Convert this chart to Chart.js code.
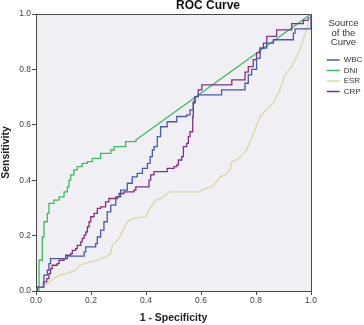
<!DOCTYPE html>
<html><head><meta charset="utf-8">
<script src="https://cdn.jsdelivr.net/npm/chart.js@4.4.0/dist/chart.umd.min.js"></script>
<style>html,body{margin:0;padding:0;background:#fff;overflow:hidden}canvas{display:block}</style>
</head><body>
<canvas id="c" width="364" height="325"></canvas>
<script>
const chartTitle = 'ROC Curve';
const seriesNames = ['WBC', 'DNI', 'ESR', 'CRP'];
const legendTitle = ['Source', 'of the', 'Curve'];
const tickLabels = ['0.0', '0.2', '0.4', '0.6', '0.8', '1.0'];

const wbcX = [0,0.005,0.029,0.041,0.047,0.053,0.114,0.175,0.181,0.217,0.223,0.235,0.247,0.259,0.272,0.29,0.308,0.332,0.35,0.368,0.387,0.405,0.415,0.423,0.429,0.441,0.453,0.477,0.512,0.548,0.56,0.572,0.578,0.59,0.669,0.675,0.754,0.76,0.772,0.784,0.802,0.815,0.839,0.863,0.924,0.936,0.942,0.99,1];
const wbcY = [0,0.014,0.057,0.075,0.099,0.117,0.126,0.141,0.159,0.171,0.195,0.22,0.25,0.286,0.31,0.34,0.364,0.389,0.412,0.425,0.443,0.461,0.485,0.509,0.521,0.557,0.593,0.611,0.63,0.636,0.654,0.684,0.702,0.708,0.708,0.726,0.726,0.75,0.78,0.80,0.84,0.877,0.895,0.907,0.907,0.931,0.946,0.946,1];

const dniX = [0,0.005,0.011,0.023,0.029,0.041,0.047,0.065,0.084,0.102,0.114,0.12,0.126,0.138,0.15,0.168,0.187,0.205,0.235,0.272,0.284,0.326,0.363];
const dniY = [0,0.003,0.111,0.195,0.25,0.28,0.316,0.328,0.34,0.358,0.376,0.40,0.419,0.437,0.449,0.461,0.467,0.479,0.497,0.509,0.521,0.539,0.545];
const dniTailX = [0.363, 1];
const dniTailY = [0.545, 1];

const esrX = [0,0.005,0.041,0.065,0.084,0.108,0.144,0.156,0.175,0.223,0.253,0.272,0.277,0.29,0.302,0.314,0.326,0.338,0.356,0.399,0.411,0.423,0.435,0.453,0.472,0.484,0.596,0.608,0.639,0.657,0.669,0.687,0.705,0.712,0.73,0.742,0.766,0.79,0.815,0.839,0.863,0.887,0.905,0.93,0.954,0.972,0.984,0.99,1];
const esrY = [0,0.009,0.027,0.045,0.057,0.063,0.075,0.093,0.099,0.111,0.123,0.135,0.165,0.177,0.19,0.213,0.238,0.256,0.262,0.268,0.292,0.31,0.328,0.334,0.346,0.358,0.358,0.367,0.376,0.394,0.412,0.419,0.437,0.467,0.473,0.485,0.509,0.569,0.63,0.654,0.678,0.726,0.78,0.81,0.859,0.907,0.943,0.967,1];

const crpX = [0,0.005,0.023,0.027,0.039,0.047,0.053,0.059,0.077,0.084,0.102,0.108,0.126,0.132,0.144,0.15,0.163,0.168,0.175,0.181,0.187,0.193,0.199,0.211,0.223,0.235,0.253,0.265,0.296,0.302,0.32,0.356,0.363,0.399,0.411,0.417,0.429,0.477,0.502,0.512,0.518,0.53,0.536,0.548,0.554,0.56,0.57,0.572,0.578,0.59,0.603,0.712,0.712,0.754,0.76,0.772,0.79,0.802,0.815,0.827,0.839,0.875,0.924,0.93,0.966,0.972,0.99,1];
const crpY = [0,0.014,0.014,0.033,0.045,0.063,0.081,0.093,0.099,0.111,0.117,0.129,0.135,0.147,0.153,0.165,0.177,0.19,0.202,0.213,0.232,0.25,0.268,0.28,0.298,0.304,0.322,0.334,0.34,0.352,0.358,0.364,0.376,0.376,0.40,0.419,0.431,0.443,0.449,0.455,0.473,0.485,0.521,0.533,0.557,0.575,0.63,0.678,0.702,0.726,0.744,0.744,0.762,0.762,0.79,0.81,0.835,0.86,0.877,0.895,0.919,0.943,0.943,0.965,0.965,0.977,0.986,1];

const colors = { WBC: '#4b57aa', DNI: '#3dba62', ESR: '#dcd8a6', CRP: '#82307f' };
const axisColor = '#4a4a4a';
const FONT = '"Liberation Sans", Arial, sans-serif';
Chart.defaults.font.family = FONT;

function pts(xs, ys) { return xs.map((x, i) => ({ x: x, y: ys[i] })); }

function ds(label, xs, ys, stepped) {
  return {
    label: label, data: pts(xs, ys), showLine: true, stepped: stepped,
    borderColor: colors[label], backgroundColor: colors[label],
    borderWidth: 1.3, pointRadius: 0, pointHoverRadius: 0, pointStyle: 'line', fill: false
  };
}

const datasets = [
  ds('WBC', wbcX, wbcY, true),
  ds('DNI', dniX, dniY, true),
  ds('ESR', esrX, esrY, false),
  ds('CRP', crpX, crpY, true),
  Object.assign(ds('DNI', dniTailX, dniTailY, false), { label: '' })
];

const framePlugin = {
  id: 'frame',
  beforeDraw(chart) {
    const a = chart.chartArea, ctx = chart.ctx;
    ctx.save();
    ctx.fillStyle = '#f0f0f4';
    ctx.fillRect(a.left, a.top, a.right - a.left, a.bottom - a.top);
    ctx.restore();
  },
  afterDraw(chart) {
    const ctx = chart.ctx;
    ctx.save();
    ctx.font = 'bold 12px ' + FONT;
    ctx.fillStyle = '#111';
    ctx.textAlign = 'center';
    ctx.textBaseline = 'alphabetic';
    ctx.fillText(chartTitle, 208, 9);
    ctx.restore();
  }
};

const tickCb = v => tickLabels[Math.round(v * 5)];

new Chart(document.getElementById('c'), {
  type: 'scatter',
  data: { datasets: datasets },
  options: {
    responsive: false, devicePixelRatio: 1, animation: false,
    layout: { padding: { top: 0, left: 0, right: 1.3, bottom: 0 } },
    plugins: {
      tooltip: { enabled: false },
      title: { display: false },
      legend: {
        position: 'right', align: 'start', maxWidth: 38.5,
        title: { display: true, text: legendTitle, color: '#333', font: { size: 9.5, lineHeight: 1 }, padding: { top: 19, bottom: 25 } },
        labels: {
          usePointStyle: true, pointStyle: 'line', pointStyleWidth: 13, boxHeight: 8,
          padding: 2.5, color: '#333', font: { size: 8 },
          filter: item => item.text !== ''
        }
      }
    },
    scales: {
      x: {
        type: 'linear', position: 'bottom', min: 0, max: 1,
        ticks: { stepSize: 0.2, color: '#444', font: { size: 8.5 }, padding: 1, maxRotation: 0, callback: tickCb },
        grid: { drawOnChartArea: false, drawTicks: true, tickLength: 4, color: axisColor },
        border: { display: true, color: axisColor, width: 1 },
        title: { display: true, text: '1 - Specificity', color: '#222', font: { size: 10.5, weight: 'bold' }, padding: { top: 0, bottom: 1 } },
        afterFit(s) { s.height = 34; }
      },
      y: {
        type: 'linear', position: 'left', min: 0, max: 1,
        ticks: { stepSize: 0.2, color: '#444', font: { size: 8.5 }, padding: 1, callback: tickCb },
        grid: { drawOnChartArea: false, drawTicks: true, tickLength: 4, color: axisColor },
        border: { display: true, color: axisColor, width: 1 },
        title: { display: true, text: 'Sensitivity', color: '#222', font: { size: 10.5, weight: 'bold' }, padding: { top: 0, bottom: 0 } },
        afterFit(s) { s.width = 36; }
      },
      x2: {
        type: 'linear', position: 'top', min: 0, max: 1,
        ticks: { display: false }, grid: { display: false },
        border: { display: true, color: axisColor, width: 1 },
        afterFit(s) { s.height = 14; }
      },
      y2: {
        type: 'linear', position: 'right', min: 0, max: 1,
        ticks: { display: false }, grid: { display: false },
        border: { display: true, color: axisColor, width: 1 },
        afterFit(s) { s.width = 13.2; }
      }
    }
  },
  plugins: [framePlugin]
});
</script>
</body></html>
